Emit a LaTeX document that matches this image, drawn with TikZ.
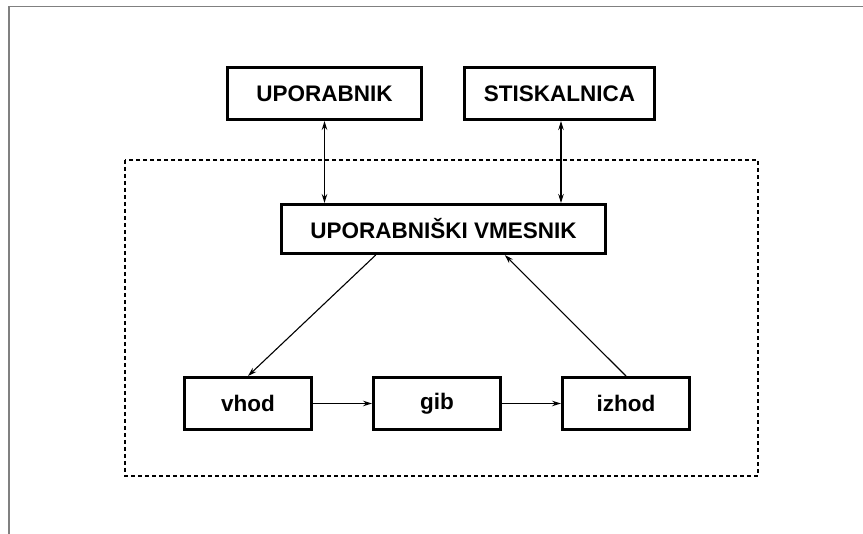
\documentclass[tikz,border=0pt]{standalone}
\usepackage{fontspec}
\setsansfont{Liberation Sans}
\usetikzlibrary{positioning, arrows.meta}

\begin{document}
\begin{tikzpicture}[
        x=1pt, y=-1pt,
        font=\fontsize{22.5}{27}\selectfont\sffamily\bfseries,
        node distance=59pt,
        >={Stealth[length=9pt, width=5.5pt]},
        box/.style={rectangle, draw=black, line width=3pt, minimum height=52pt, align=center},
        small/.style={box, minimum width=127pt},
        link/.style={line width=1.1pt},
        frame/.style={draw=black, line width=1.3pt, dash pattern=on 4pt off 3pt},
        edge/.style={draw=gray, line width=1.5pt},
      ]
        \useasboundingbox (0,0) rectangle (863,534);
        \draw[edge] (863,6.5) -- (9,6.5) -- (9,534);
        \draw[frame] (125,160) rectangle (758,476);

        \node[box, minimum width=194pt] (upor) at (324.5,93.5) {UPORABNIK};
        \node[box, minimum width=190pt] (stisk) at (559.5,93.5) {STISKALNICA};
        \node[box, minimum width=324pt, minimum height=49pt] (vmes) at (443.5,229) {UPORABNIŠKI VMESNIK};

        \node[small] (vhod) at (248,403.5) {vhod};
        \node[small, right=of vhod] (gib) {gib};
        \node[small, right=of gib] (izhod) {izhod};

        \draw[<->, link] (upor) -- (upor |- vmes.north);
        \draw[<->, link] (stisk.south -| 561,0) -- (vmes.north -| 561,0);
        \draw[->, link] (vmes.201) -- (vhod.north);
        \draw[->, link] (izhod.north) -- (vmes.337.4);
        \draw[->, link] (vhod) -- (gib);
        \draw[->, link] (gib) -- (izhod);
      \end{tikzpicture}
\end{document}
